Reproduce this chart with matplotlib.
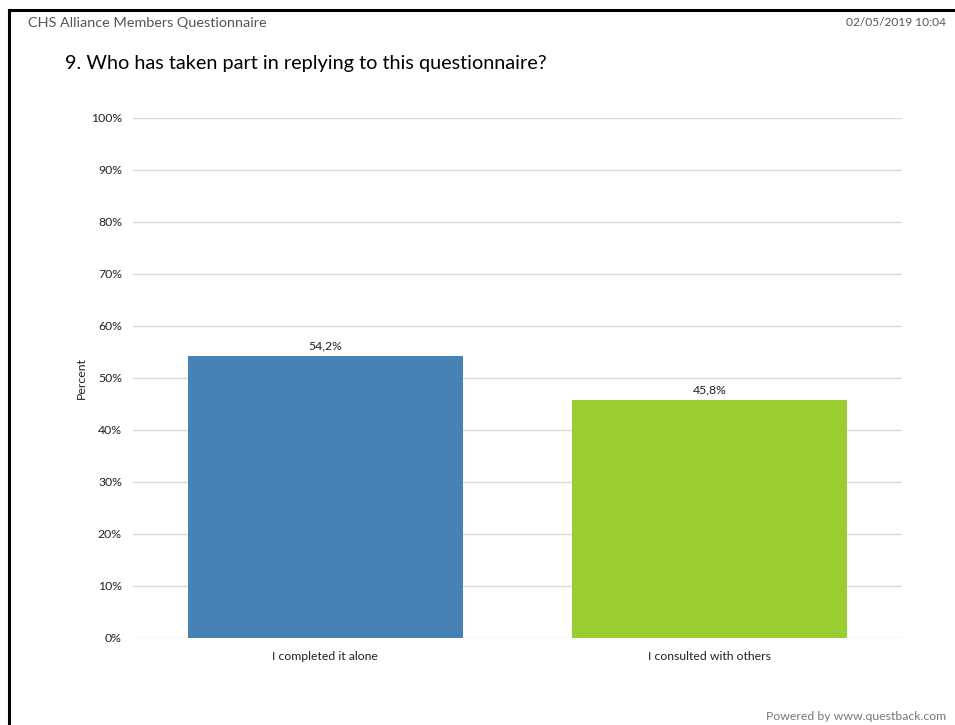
import matplotlib.pyplot as plt
from matplotlib.lines import Line2D

categories = ['I completed it alone', 'I consulted with others']
percent = [54.2, 45.8]
bar_colors = ['#4682B4', '#9ACD32']
yticks = [0, 10, 20, 30, 40, 50, 60, 70, 80, 90, 100]

plt.rcParams['font.family'] = ['Lato', 'DejaVu Sans']

fig = plt.figure(figsize=(9.55, 7.25), dpi=100)

# page frame (top and left edges)
fig.add_artist(Line2D([9/955, 1], [1 - 10/725, 1 - 10/725], color='black', lw=2.2))
fig.add_artist(Line2D([9/955, 9/955], [0, 1 - 10/725], color='black', lw=2.2))

fig.text(28/955, 1 - 23/725, 'CHS Alliance Members Questionnaire', fontsize=10.4,
         color='#555555', va='center', ha='left')
fig.text(946/955, 1 - 23/725, '02/05/2019 10:04', fontsize=8.6,
         color='#555555', va='center', ha='right')
fig.text(65/955, 1 - 63/725, '9. Who has taken part in replying to this questionnaire?',
         fontsize=14.3, color='black', va='center', ha='left')
fig.text(946/955, 1 - 717/725, 'Powered by www.questback.com', fontsize=8.85,
         color='#777777', va='center', ha='right')

ax = fig.add_axes([133/955, 1 - 638/725, 769/955, 520/725])
x = range(len(categories))
bars = ax.bar(x, percent, width=0.715, color=bar_colors, zorder=2)
for b, v in zip(bars, percent):
    ax.text(b.get_x() + b.get_width() / 2, v + 2.0, f'{v:.1f}%'.replace('.', ','),
            ha='center', va='center', fontsize=8.8, color='#222222')

ax.set_xlim(-0.5, len(categories) - 0.5)
ax.set_ylim(0, 100)
ax.set_yticks(yticks)
ax.set_yticklabels([f'{t}%' for t in yticks])
ax.set_xticks(list(x))
ax.set_xticklabels(categories)
ax.tick_params(axis='both', length=0, labelsize=8.8, colors='#222222')
ax.tick_params(axis='y', pad=8)
ax.tick_params(axis='x', pad=9)
ax.grid(axis='y', color='#d9d9d9', lw=1, zorder=0)
for s in ax.spines.values():
    s.set_visible(False)
ax.set_ylabel('Percent', fontsize=8.8, color='#222222', labelpad=3)

plt.savefig('out.png', dpi=100)
